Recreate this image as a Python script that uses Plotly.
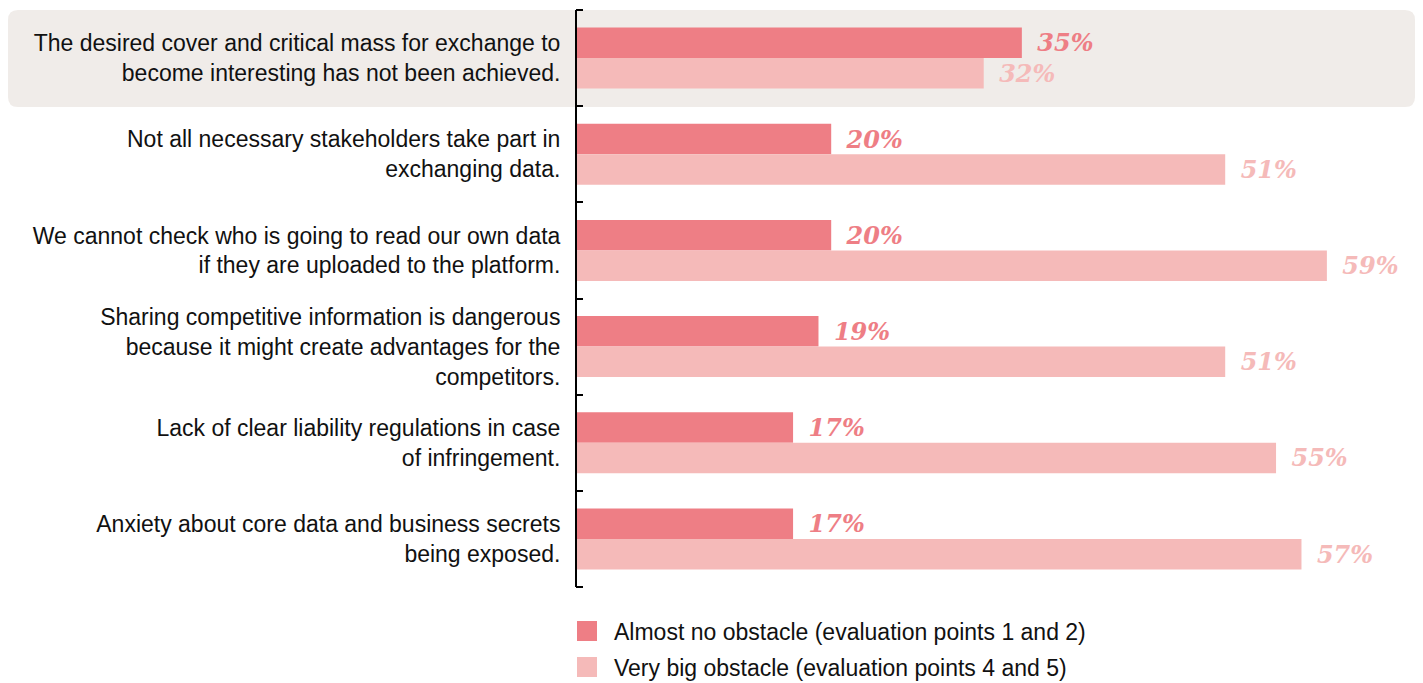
import plotly.graph_objects as go

categories = [
    "The desired cover and critical mass for exchange to<br>become interesting has not been achieved.",
    "Not all necessary stakeholders take part in<br>exchanging data.",
    "We cannot check who is going to read our own data<br>if they are uploaded to the platform.",
    "Sharing competitive information is dangerous<br>because it might create advantages for the<br>competitors.",
    "Lack of clear liability regulations in case<br>of infringement.",
    "Anxiety about core data and business secrets<br>being exposed.",
]
series_names = [
    "Almost no obstacle (evaluation points 1 and 2)",
    "Very big obstacle (evaluation points 4 and 5)",
]
almost_no = [35, 20, 20, 19, 17, 17]
very_big = [32, 51, 59, 51, 55, 57]

DARK = "#EE7E85"
LIGHT = "#F5BAB9"
HIGHLIGHT = "#F0ECE9"

W, H = 1423, 683
ML, MR, MT, MB = 577, 0, 10, 96
PW, PH = W - ML - MR, H - MT - MB
PX_PER_PCT = 12.71

label_font = dict(family="DejaVu Serif", size=24)
cat_font = dict(family="Liberation Sans", size=23, color="#111111")

fig = go.Figure()
for name, vals, col in [(series_names[0], almost_no, DARK), (series_names[1], very_big, LIGHT)]:
    fig.add_trace(go.Bar(
        y=categories, x=vals, name=name, orientation="h",
        marker=dict(color=col, line=dict(width=0)),
        texttemplate="\u00a0\u2009<b><i>%{x}%</i></b>",
        textposition="outside", constraintext="none", cliponaxis=False,
        textfont=dict(color=col, **label_font),
        showlegend=False, hoverinfo="skip",
    ))

def px_x(p):
    return (p - ML) / PW

def px_y(p):
    return (MT + PH - p) / PH

# highlight rounded rectangle behind first category
x0, x1 = px_x(8), px_x(1415)
yt, yb = px_y(10), px_y(107)
rx, ry = 10 / PW, 10 / PH
path = (f"M {x0+rx},{yt} L {x1-rx},{yt} Q {x1},{yt} {x1},{yt-ry} "
        f"L {x1},{yb+ry} Q {x1},{yb} {x1-rx},{yb} L {x0+rx},{yb} "
        f"Q {x0},{yb} {x0},{yb+ry} L {x0},{yt-ry} Q {x0},{yt} {x0+rx},{yt} Z")
shapes = [dict(type="path", path=path, xref="paper", yref="paper",
               fillcolor=HIGHLIGHT, line=dict(width=0), layer="below")]

# end ticks of the axis bracket
for yp in (0, 1):
    shapes.append(dict(type="line", xref="paper", yref="paper",
                       x0=px_x(576), x1=px_x(583), y0=yp, y1=yp,
                       line=dict(color="black", width=2)))

# manual legend
annotations = []
for i, (name, col) in enumerate(zip(series_names, [DARK, LIGHT])):
    top = 621 + i * 36
    shapes.append(dict(type="rect", xref="paper", yref="paper",
                       x0=px_x(577), x1=px_x(597), y0=px_y(top), y1=px_y(top + 20),
                       fillcolor=col, line=dict(width=0)))
    annotations.append(dict(text=name, xref="paper", yref="paper",
                            x=px_x(612), y=px_y(top + 11), xanchor="left", yanchor="middle",
                            showarrow=False, font=cat_font))

fig.update_layout(
    width=W, height=H,
    margin=dict(l=ML, r=MR, t=MT, b=MB, autoexpand=False),
    barmode="group", bargap=0.366, bargroupgap=0,
    paper_bgcolor="white", plot_bgcolor="rgba(0,0,0,0)",
    shapes=shapes, annotations=annotations,
    font=cat_font,
    xaxis=dict(range=[0, PW / PX_PER_PCT], visible=False, showgrid=False, zeroline=False),
    yaxis=dict(type="category", autorange="reversed", showline=True, linecolor="black",
               linewidth=2, ticks="inside", tickson="boundaries", ticklen=6, tickwidth=2,
               tickcolor="black", showgrid=False, ticklabelstandoff=10,
               tickfont=cat_font),
)

fig.write_html("out.html", config={"displayModeBar": False, "staticPlot": True},
               post_script="document.body.style.margin='0';document.body.style.overflow='hidden';")
